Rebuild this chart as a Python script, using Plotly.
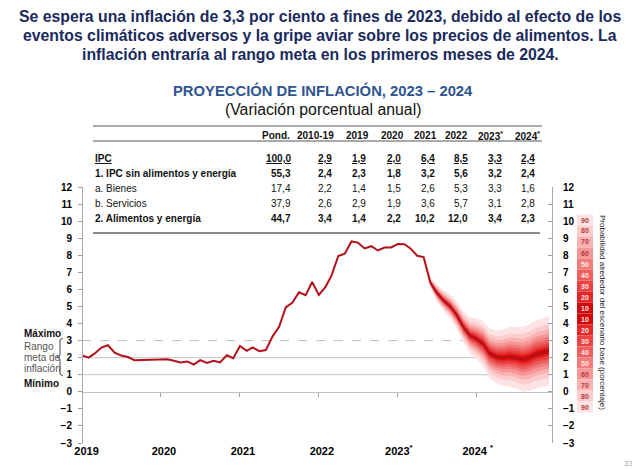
import plotly.graph_objects as go
import pandas as pd

W, H = 640, 470
OFF = 8  # page body margin of the rendered html
def px(x): return (x - OFF) / W
def py(y): return 1 - (y - OFF) / H

NARROW = "Liberation Sans Narrow, Arial Narrow, Liberation Sans, Arial, sans-serif"
SANS = "Liberation Sans, Arial, sans-serif"

# ---------------- data ----------------
months = pd.date_range("2019-01-01", "2024-12-01", freq="MS")

ipc_observed = [2.13, 2.00, 2.25, 2.59, 2.73, 2.29, 2.13, 2.04, 1.85, 1.87, 1.87, 1.90,
                1.90, 1.91, 1.82, 1.72, 1.78, 1.60, 1.86, 1.69, 1.82, 1.72, 2.14, 1.97,
                2.68, 2.40, 2.60, 2.38, 2.45, 3.25, 3.81, 4.95, 5.23, 5.83, 5.66, 6.43,
                5.68, 6.15, 6.82, 7.96, 8.09, 8.81, 8.74, 8.40, 8.53, 8.28, 8.45, 8.46,
                8.66, 8.65, 8.40, 7.97, 7.89]
ipc_projection = [6.4, 5.8, 5.35, 5.0, 4.5, 3.8, 3.3, 3.1, 2.8, 2.25, 2.05, 2.0,
                  2.05, 2.0, 1.9, 2.0, 2.2, 2.3, 2.4]
fan_halfwidth = [0.0, 0.3, 0.5, 0.6, 0.7, 0.8, 0.9, 1.05, 1.2, 1.35, 1.45, 1.55,
                 1.65, 1.75, 1.8, 1.9, 1.95, 2.0, 2.0, 2.05]

prob_levels = [90, 80, 70, 60, 50, 40, 30, 20, 10]
band_fraction = [1.0, 0.78, 0.63, 0.51, 0.41, 0.32, 0.23, 0.15, 0.08]
band_colors = ["#FDE3E3", "#FBCCCC", "#F8B2B2", "#F59797", "#F27B7B",
               "#EE5F5F", "#EA4343", "#E42626", "#D00A0A"]
label_colors = ["#B23A3A", "#B23A3A", "#B23A3A", "#B23A3A", "#FFE6E6",
                "#FFE6E6", "#FFE6E6", "#FFE6E6", "#FFE6E6"]

target_range = [1, 2]
target_max = 3
y_ticks = list(range(-3, 13))

year_ticks = ["2020-01-01", "2021-01-01", "2022-01-01", "2023-01-01", "2024-01-01"]
year_label_pos = ["2019-01-22", "2020-01-15", "2021-01-15", "2022-01-15", "2023-01-06", "2024-01-06"]
year_labels = ["2019", "2020", "2021", "2022", "2023<sup>*</sup>", "2024 <sup>*</sup>"]

title_lines = ["Se espera una inflación de 3,3 por ciento a fines de 2023, debido al efecto de los",
               "eventos climáticos adversos y la gripe aviar sobre los precios de alimentos. La",
               "inflación entraría al rango meta en los primeros meses de 2024."]

table_columns = ["Pond.", "2010-19", "2019", "2020", "2021", "2022", "2023<sup>*</sup>", "2024<sup>*</sup>"]
row_labels = ["IPC", "1. IPC sin alimentos y energía", "a. Bienes", "b. Servicios", "2. Alimentos y energía"]
table_values = [
    ["100,0", "2,9", "1,9", "2,0", "6,4", "8,5", "3,3", "2,4"],
    ["55,3", "2,4", "2,3", "1,8", "3,2", "5,6", "3,2", "2,4"],
    ["17,4", "2,2", "1,4", "1,5", "2,6", "5,3", "3,3", "1,6"],
    ["37,9", "2,6", "2,9", "1,9", "3,6", "5,7", "3,1", "2,8"],
    ["44,7", "3,4", "1,4", "2,2", "10,2", "12,0", "3,4", "2,3"],
]
row_style = ["bu", "b", "", "", "b"]

# ---------------- layout geometry (screen pixels) ----------------
X0, X1 = 82, 552
Y_TOP, Y_BOT = 187, 443
header_right = [291, 335, 370, 405, 438, 469, 504, 541]
value_right = [292, 333, 367, 402, 436, 469, 503, 536]
row_y = [159, 173, 189, 203, 219]
title_y = [16, 35, 54]

fig = go.Figure()

# fan chart (outer bands first)
fan_months = list(months[len(ipc_observed) - 1:])
fan_center = [ipc_observed[-1]] + ipc_projection
for frac, color in zip(band_fraction, band_colors):
    upper = [c + frac * h for c, h in zip(fan_center, fan_halfwidth)]
    lower = [c - frac * h for c, h in zip(fan_center, fan_halfwidth)]
    fig.add_trace(go.Scatter(x=fan_months + fan_months[::-1], y=upper + lower[::-1],
                             fill="toself", fillcolor=color, line=dict(width=0),
                             mode="lines", hoverinfo="skip", showlegend=False))

fig.add_trace(go.Scatter(x=list(months), y=ipc_observed + ipc_projection, mode="lines",
                         line=dict(color="#B3121C", width=2), showlegend=False))
# helper traces so overlay axes render
fig.add_trace(go.Scatter(x=[months[0]], y=[None], xaxis="x2", yaxis="y", showlegend=False, hoverinfo="skip"))
fig.add_trace(go.Scatter(x=[months[0]], y=[None], xaxis="x", yaxis="y2", showlegend=False, hoverinfo="skip"))

y_zero = Y_TOP + (12 - 0) * (Y_BOT - Y_TOP) / 15
x_range = ["2019-01-01", "2024-12-15"]
tickfont = dict(family=SANS, size=10, color="black", weight="bold")

fig.update_layout(
    width=W, height=H, margin=dict(l=0, r=0, t=0, b=0, autoexpand=False),
    paper_bgcolor="white", plot_bgcolor="rgba(0,0,0,0)",
    xaxis=dict(type="date", range=x_range, domain=[px(X0), px(X1)], anchor="free",
               position=py(y_zero), showline=True, linecolor="#C4C4C4", linewidth=1,
               ticks="outside", ticklen=4, tickcolor="#A0A0A0", tickvals=year_ticks,
               showticklabels=False, showgrid=False, zeroline=False, automargin=False),
    xaxis2=dict(type="date", range=x_range, overlaying="x", anchor="y", side="bottom",
                showline=False, ticks="", tickvals=year_label_pos, ticktext=year_labels,
                tickfont=dict(family=SANS, size=11, color="black", weight="bold"),
                showgrid=False, zeroline=False, automargin=False),
    yaxis=dict(range=[-3, 12], domain=[py(Y_BOT), py(Y_TOP)], anchor="free", position=px(X0),
               tickvals=y_ticks, ticks="outside", ticklen=4, tickcolor="#A0A0A0",
               showline=True, linecolor="#A8A8A8", linewidth=1, tickfont=tickfont,
               showgrid=False, zeroline=False, ticklabelstandoff=4, automargin=False),
    yaxis2=dict(range=[-3, 12], overlaying="y", side="right", anchor="free", position=px(X1),
                tickvals=y_ticks, ticks="inside", ticklen=4, tickcolor="#A0A0A0",
                showline=True, linecolor="#A8A8A8", linewidth=1, tickfont=tickfont,
                showgrid=False, zeroline=False, ticklabelstandoff=8, automargin=False),
)

shapes = []
for v in target_range:
    shapes.append(dict(type="line", xref="x domain", yref="y", x0=0, x1=1, y0=v, y1=v,
                       line=dict(color="#C4C4C4", width=1), layer="below"))
shapes.append(dict(type="line", xref="x domain", yref="y", x0=0, x1=1, y0=target_max, y1=target_max,
                   line=dict(color="#BDBDBD", width=1, dash="dash"), layer="below"))
# table rules
shapes.append(dict(type="line", xref="paper", yref="paper", x0=px(93), x1=px(542), y0=py(126), y1=py(126),
                   line=dict(color="#555", width=1)))
shapes.append(dict(type="line", xref="paper", yref="paper", x0=px(93), x1=px(542), y0=py(141), y1=py(141),
                   line=dict(color="#555", width=1)))
shapes.append(dict(type="line", xref="paper", yref="paper", x0=px(93), x1=px(540), y0=py(233), y1=py(233),
                   line=dict(color="#8C8C8C", width=2)))
# brace for target range
bp = [(63, 338), (60, 340), (60, 355), (57, 357), (60, 359), (60, 374), (63, 376)]
path = "M " + " L ".join(f"{px(a):.5f},{py(b):.5f}" for a, b in bp)
shapes.append(dict(type="path", xref="paper", yref="paper", path=path, line=dict(color="#444", width=1)))

annotations = []
# probability legend
levels_full = prob_levels + prob_levels[::-1]
colors_full = band_colors + band_colors[::-1]
lcol_full = label_colors + label_colors[::-1]
box_top, box_h = 214.5, 11
for i, (lv, c, tc) in enumerate(zip(levels_full, colors_full, lcol_full)):
    y0 = box_top + i * box_h
    shapes.append(dict(type="rect", xref="paper", yref="paper", x0=px(577), x1=px(593),
                       y0=py(y0), y1=py(y0 + box_h), fillcolor=c, line=dict(width=0)))
    annotations.append(dict(xref="paper", yref="paper", x=px(585), y=py(y0 + box_h / 2), text=f"<b>{lv}</b>",
                            showarrow=False, font=dict(family=SANS, size=7, color=tc),
                            xanchor="center", yanchor="middle", borderpad=0))
annotations.append(dict(xref="paper", yref="paper", x=px(603), y=py(312), textangle=90,
                        text="Probabilidad alrededor del escenario base (porcentaje)", showarrow=False,
                        font=dict(family=SANS, size=8, color="#222"), xanchor="center", yanchor="middle"))

# titles
for t, yy in zip(title_lines, title_y):
    annotations.append(dict(xref="paper", yref="paper", x=px(320), y=py(yy), text=f"<b>{t}</b>",
                            showarrow=False, font=dict(family=NARROW, size=15.8, color="#1A2A5C"),
                            xanchor="center", yanchor="middle", borderpad=0))
annotations.append(dict(xref="paper", yref="paper", x=px(323), y=py(91),
                        text="<b>PROYECCIÓN DE INFLACIÓN, 2023 – 2024</b>", showarrow=False,
                        font=dict(family=NARROW, size=14.8, color="#2F5590"), xanchor="center", yanchor="middle",
                        borderpad=0))
annotations.append(dict(xref="paper", yref="paper", x=px(323), y=py(110),
                        text="(Variación porcentual anual)", showarrow=False,
                        font=dict(family=NARROW, size=15.8, color="#111"), xanchor="center", yanchor="middle",
                        borderpad=0))

# table
for col, xr in zip(table_columns, header_right):
    annotations.append(dict(xref="paper", yref="paper", x=px(xr), y=py(136), text=f"<b>{col}</b>",
                            showarrow=False, font=dict(family=SANS, size=10, color="#111"),
                            xanchor="right", yanchor="middle", borderpad=0))
for label, vals, st, yy in zip(row_labels, table_values, row_style, row_y):
    def fmt(s):
        if "u" in st:
            s = f"<u>{s}</u>"
        if "b" in st:
            s = f"<b>{s}</b>"
        return s
    annotations.append(dict(xref="paper", yref="paper", x=px(94), y=py(yy), text=fmt(label),
                            showarrow=False, font=dict(family=SANS, size=10, color="#111"),
                            xanchor="left", yanchor="middle", borderpad=0))
    for v, xr in zip(vals, value_right):
        annotations.append(dict(xref="paper", yref="paper", x=px(xr), y=py(yy), text=fmt(v),
                                showarrow=False, font=dict(family=SANS, size=10, color="#111"),
                                xanchor="right", yanchor="middle", borderpad=0))

# target range labels
side_labels = [("<b>Máximo</b>", 333, "#111"), ("Rango", 346, "#555"), ("meta de", 357, "#555"),
               ("inflación", 368, "#555"), ("<b>Mínimo</b>", 383, "#111")]
for t, yy, c in side_labels:
    annotations.append(dict(xref="paper", yref="paper", x=px(23), y=py(yy), text=t, showarrow=False,
                            font=dict(family=SANS, size=10, color=c), xanchor="left", yanchor="middle",
                            borderpad=0))

annotations.append(dict(xref="paper", yref="paper", x=px(634), y=py(463), text="33", showarrow=False,
                        font=dict(family=SANS, size=8, color="#AAAAAA"), xanchor="right", yanchor="middle",
                        borderpad=0))

fig.update_layout(shapes=shapes, annotations=annotations)
fig.write_html("out.html")
